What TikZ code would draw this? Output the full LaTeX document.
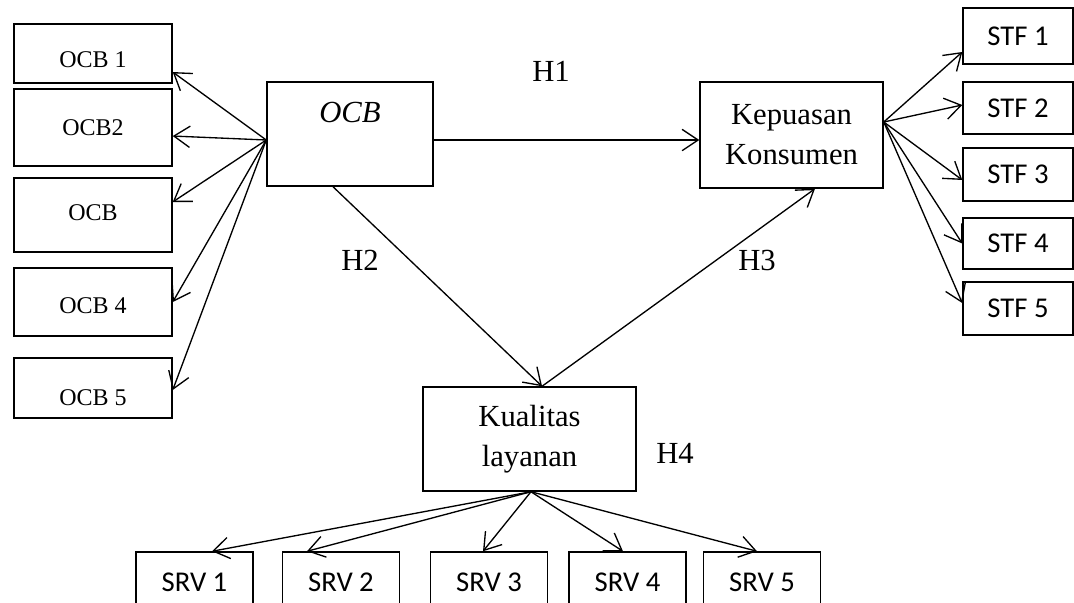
\documentclass[tikz,border=0pt]{standalone}
\usepackage{fontspec}
\setmainfont{Liberation Serif}
\newfontfamily\calibri{Carlito}
\usepackage{tikz}
\usetikzlibrary{arrows.meta, positioning}

\begin{document}
\begin{tikzpicture}[x=0.75pt, y=-0.75pt,
    box/.style={draw, line width=1.1pt, inner sep=0pt, align=center},
    bigtext/.style={font=\fontsize{23}{30}\selectfont},
    ocbtext/.style={font=\fontsize{18}{21}\selectfont},
    indtext/.style={font=\calibri\fontsize{21.5}{25}\selectfont},
    link/.style={line width=1pt, -{Straight Barb[length=12pt, width=16pt, line width=1pt]}}]
        \useasboundingbox (0,0) rectangle (1074,603);
        % Main constructs
        \node[box, minimum width=124.5pt, minimum height=78pt,
          label={[bigtext, yshift=16.5pt]center:\textit{OCB}}] (ocb) at (350,134) {};
        \node[box, bigtext, minimum width=137.25pt, minimum height=79.5pt] (kep) at (791.5,135) {Kepuasan\\Konsumen};
        \node[box, bigtext, minimum width=159.75pt, minimum height=78pt] (kua) at (529.5,439) {Kualitas\\layanan};
        % OCB indicators (left)
        \foreach \n/\y/\h/\d/\t in {1/53.5/44.25/-5/OCB 1, 2/127.5/57.75/0/OCB2, 3/215/55.5/2/OCB,
                                    4/302/51/-3/OCB 4, 5/388/45/-7.5/OCB 5}
          \node[box, minimum width=118.5pt, minimum height=\h pt,
            label={[ocbtext, yshift=\d pt]center:\t}] (o\n) at (93,\y) {};
        % STF indicators (right)
        \foreach \n/\y/\h in {1/36/42, 2/108/39, 3/174.5/39.75, 4/243.5/38.25, 5/308.5/39.75}
          \node[box, indtext, minimum width=82.5pt, minimum height=\h pt] (s\n) at (1018,\y) {STF \n};
        % SRV indicators (bottom)
        \foreach \n/\x in {1/194.5, 2/341, 3/489, 4/627.5, 5/762}
          \node[box, indtext, minimum width=87.75pt, minimum height=45pt] (r\n) at (\x,582) {SRV \n};
        % Arrows to OCB indicators
        \foreach \n/\s in {1/-13.9, 2/-6.4, 3/9.75, 4/0, 5/-1.5}
          \draw[link] ([yshift=-4.5pt]ocb.west) -- ([yshift=\s pt]o\n.east);
        % Arrows to STF indicators
        \foreach \n/\s in {1/-12, 2/2.25, 3/-4.1, 4/0, 5/4.1}
          \draw[link] ([yshift=9.75pt]kep.east) -- ([yshift=\s pt]s\n.west);
        % Arrows to SRV indicators
        \foreach \n/\s in {1/13.1, 2/-25.5, 3/-4.5, 4/-3.4, 5/-3.75}
          \draw[link] ([xshift=1.1pt]kua.south) -- ([xshift=\s pt]r\n.north);
        % Hypotheses
        \draw[link] ([yshift=-4.5pt]ocb.east) -- ([yshift=-3.75pt]kep.west);
        \draw[link] ([xshift=-12.75pt]ocb.south) -- ([xshift=9.4pt]kua.north);
        \draw[link] ([xshift=9.4pt]kua.north) -- ([xshift=17.6pt]kep.south);
        \node[bigtext] (h1) at (551,71) {H1};
        \node[bigtext] (h2) at (360,260) {H2};
        \node[bigtext] (h3) at (757,260) {H3};
        \node[bigtext] (h4) at (675,453) {H4};
      \end{tikzpicture}
\end{document}
